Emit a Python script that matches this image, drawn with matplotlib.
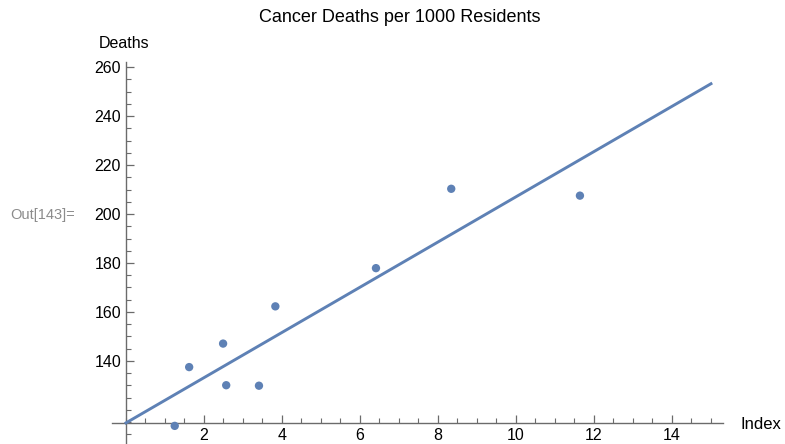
import matplotlib
matplotlib.use("Agg")
import matplotlib.pyplot as plt
from matplotlib.ticker import MultipleLocator
import numpy as np

plt.rcParams['font.family'] = ['Liberation Sans', 'DejaVu Sans']

# exposure index vs cancer deaths per 1000 residents
index = [8.34, 6.41, 3.41, 3.83, 2.57, 11.64, 1.25, 2.49, 1.62]
deaths = [210.3, 177.9, 129.9, 162.3, 130.1, 207.5, 113.5, 147.1, 137.5]

# least squares fit
slope, intercept = np.polyfit(index, deaths, 1)
fit_x = np.array([0, 15])
fit_y = intercept + slope * fit_x

blue = "#5E81B5"
axis_gray = "#6b6b6b"

fig = plt.figure(figsize=(7.85, 4.44), dpi=100)
ax = fig.add_axes([0.1431, 0.0, 0.7775, 0.860])

ax.plot(fit_x, fit_y, color=blue, lw=2.1, zorder=3)
ax.scatter(index, deaths, color=blue, s=36, zorder=4, clip_on=False, edgecolors="none")

ax.set_xlim(-0.35, 15.3)
ax.set_ylim(106.1, 262)

for s in ["top", "right"]:
    ax.spines[s].set_visible(False)
ax.spines["left"].set_position(("data", 0))
ax.spines["bottom"].set_position(("data", intercept))
for s in ["left", "bottom"]:
    ax.spines[s].set_color(axis_gray)
    ax.spines[s].set_linewidth(1.0)

ax.xaxis.set_major_locator(MultipleLocator(2))
ax.xaxis.set_minor_locator(MultipleLocator(0.5))
ax.yaxis.set_major_locator(MultipleLocator(20))
ax.yaxis.set_minor_locator(MultipleLocator(5))
ax.tick_params(axis="both", which="major", direction="in", length=6, width=0.9,
               color=axis_gray, labelsize=11.5, labelcolor="black")
ax.tick_params(axis="both", which="minor", direction="in", length=3.5, width=0.8,
               color=axis_gray)
ax.tick_params(axis="x", pad=4)

ax.set_xticks([2, 4, 6, 8, 10, 12, 14])
ax.set_yticks([140, 160, 180, 200, 220, 240, 260])

fig.text(400 / 785, 1 - 18 / 444, "Cancer Deaths per 1000 Residents",
         ha="center", va="center", fontsize=13)
fig.text(124 / 785, 1 - 44 / 444, "Deaths", ha="center", va="center", fontsize=11.5)
fig.text(740 / 785, 1 - 424 / 444, "Index", ha="left", va="center", fontsize=12)
fig.text(10 / 785, 1 - 215 / 444, "Out[143]=", ha="left", va="center",
         fontsize=10.5, color="#8c8c8c")

fig.savefig("out.png", dpi=100)
